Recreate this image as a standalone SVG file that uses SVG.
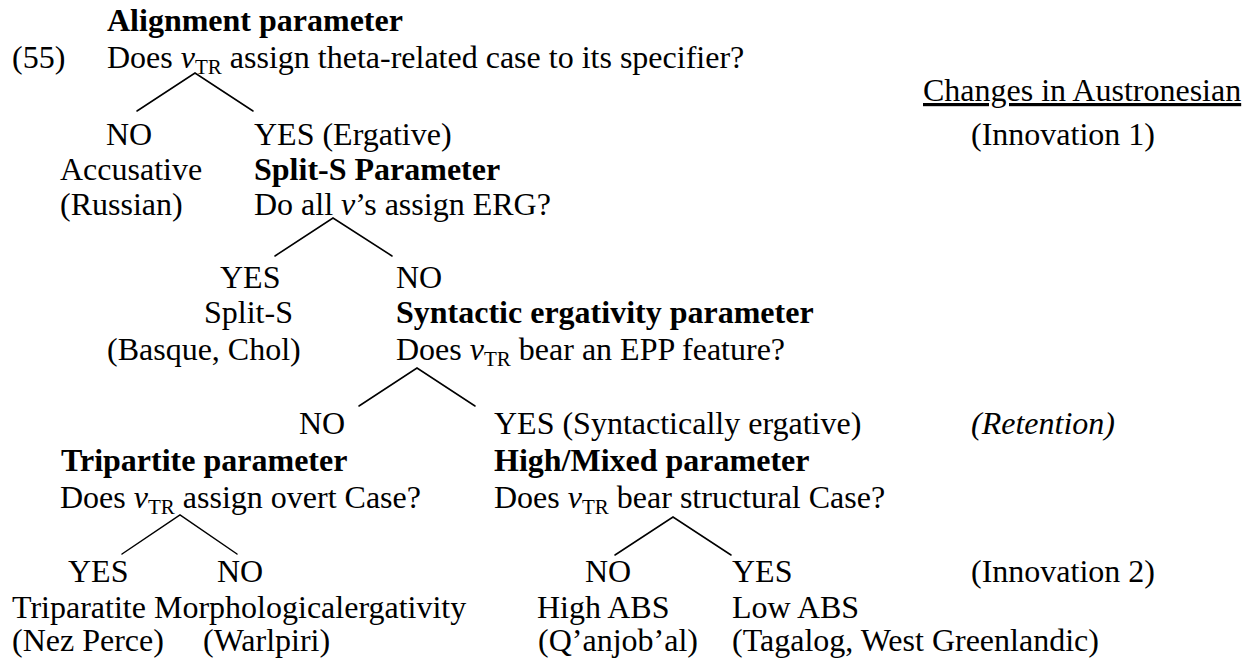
<svg xmlns="http://www.w3.org/2000/svg" width="1254" height="664" viewBox="0 0 1254 664">
  <style>
    text { font-family: "Liberation Serif", "Times New Roman", serif; font-size: 32px; fill: #000; }
    .b { font-weight: bold; }
    .i { font-style: italic; }
    .u { text-decoration: underline; }
    .sub { font-size: 21px; font-style: normal; }
    .edge { stroke: #000; stroke-width: 1.5; fill: none; stroke-linecap: round; }
  </style>
  <rect width="1254" height="664" fill="#fff"/>

  <!-- tree branches -->
  <g id="connectors">
    <polyline class="edge" points="137,111 195,73 253,111"/>
    <polyline class="edge" points="275,256 333,218 392,256"/>
    <polyline class="edge" points="359,406 417,368 475,406"/>
    <polyline class="edge" points="122,554 180,515 237,554"/>
    <polyline class="edge" points="615,555 673,517 731,555"/>
  </g>

  <g id="example-number">
    <text x="12" y="68">(55)</text>
  </g>

  <g id="alignment">
    <text class="b" x="107" y="31">Alignment parameter</text>
    <text x="107" y="68">Does <tspan class="i">v</tspan><tspan class="sub" dy="6">TR</tspan><tspan dy="-6"> assign theta-related case to its specifier?</tspan></text>
  </g>

  <g id="accusative">
    <text x="106" y="145">NO</text>
    <text x="60" y="180">Accusative</text>
    <text x="60" y="215">(Russian)</text>
  </g>

  <g id="split-s-parameter">
    <text x="254" y="145">YES (Ergative)</text>
    <text class="b" x="254" y="180">Split-S Parameter</text>
    <text x="254" y="215">Do all <tspan class="i">v</tspan>’s assign ERG?</text>
  </g>

  <g id="split-s">
    <text x="220" y="288">YES</text>
    <text x="204" y="323">Split-S</text>
    <text x="107" y="360">(Basque, Chol)</text>
  </g>

  <g id="syntactic-ergativity">
    <text x="396" y="288">NO</text>
    <text class="b" x="396" y="323">Syntactic ergativity parameter</text>
    <text x="396" y="360">Does <tspan class="i">v</tspan><tspan class="sub" dy="6">TR</tspan><tspan dy="-6"> bear an EPP feature?</tspan></text>
  </g>

  <g id="tripartite-parameter">
    <text x="299" y="434">NO</text>
    <text class="b" x="61" y="471">Tripartite parameter</text>
    <text x="60" y="508">Does <tspan class="i">v</tspan><tspan class="sub" dy="6">TR</tspan><tspan dy="-6"> assign overt Case?</tspan></text>
  </g>

  <g id="high-mixed-parameter">
    <text x="494" y="434">YES (Syntactically ergative)</text>
    <text class="b" x="494" y="471">High/Mixed parameter</text>
    <text x="494" y="508">Does <tspan class="i">v</tspan><tspan class="sub" dy="6">TR</tspan><tspan dy="-6"> bear structural Case?</tspan></text>
  </g>

  <g id="tripartite">
    <text x="68" y="582">YES</text>
    <text x="12" y="618">Triparatite</text>
    <text x="12" y="651">(Nez Perce)</text>
  </g>

  <g id="morphological">
    <text x="217" y="582">NO</text>
    <text x="154" y="618">Morphologicalergativity</text>
    <text x="203" y="651">(Warlpiri)</text>
  </g>

  <g id="high-abs">
    <text x="585" y="582">NO</text>
    <text x="537" y="618">High ABS</text>
    <text x="538" y="651">(Q’anjob’al)</text>
  </g>

  <g id="low-abs">
    <text x="732" y="582">YES</text>
    <text x="732" y="618">Low ABS</text>
    <text x="732" y="651">(Tagalog, West Greenlandic)</text>
  </g>

  <g id="austronesian-changes">
    <text class="u" x="923" y="101">Changes in Austronesian</text>
    <text x="971" y="145">(Innovation 1)</text>
    <text class="i" x="971" y="434">(Retention)</text>
    <text x="971" y="582">(Innovation 2)</text>
  </g>
</svg>
